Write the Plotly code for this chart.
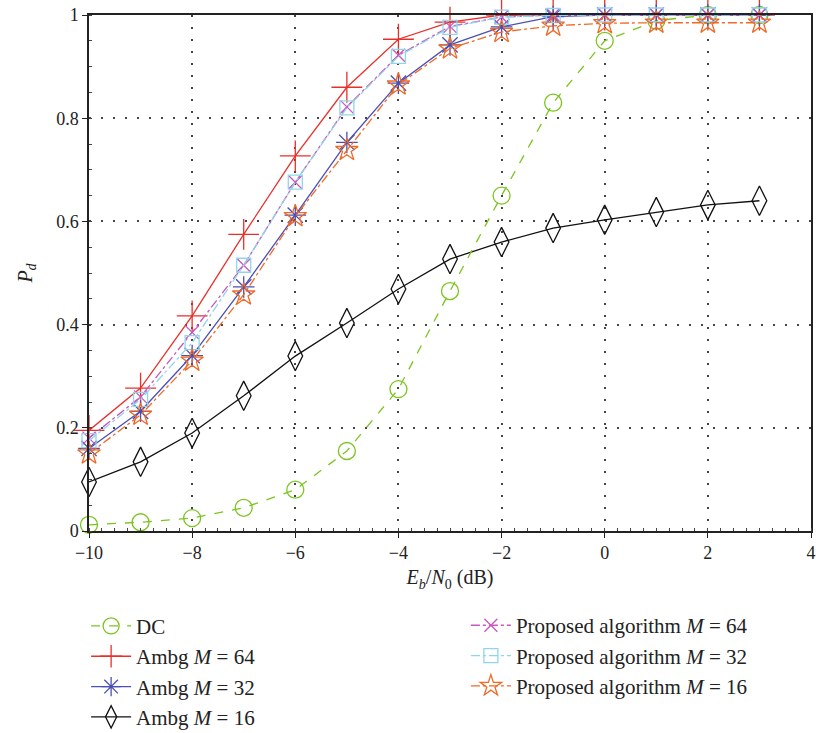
import plotly.graph_objects as go

x = [-10, -9, -8, -7, -6, -5, -4, -3, -2, -1, 0, 1, 2, 3]

dc = [0.012, 0.017, 0.025, 0.045, 0.08, 0.155, 0.275, 0.465, 0.65, 0.83, 0.95, 0.989, 1.0, 1.0]
ambg64 = [0.195, 0.277, 0.417, 0.575, 0.727, 0.86, 0.953, 0.986, 1.0, 1.0, 1.0, 1.0, 1.0, 1.0]
ambg32 = [0.16, 0.232, 0.34, 0.473, 0.612, 0.753, 0.868, 0.942, 0.977, 0.997, 1.0, 1.0, 1.0, 1.0]
ambg16 = [0.095, 0.134, 0.19, 0.262, 0.339, 0.403, 0.469, 0.527, 0.56, 0.587, 0.603, 0.618, 0.632, 0.64]
prop64 = [0.18, 0.26, 0.385, 0.515, 0.676, 0.822, 0.922, 0.978, 0.996, 1.0, 1.0, 1.0, 1.0, 1.0]
prop32 = [0.175, 0.255, 0.365, 0.515, 0.676, 0.82, 0.92, 0.976, 0.996, 0.999, 1.0, 1.0, 1.0, 1.0]
prop16 = [0.15, 0.225, 0.33, 0.458, 0.61, 0.738, 0.865, 0.935, 0.967, 0.979, 0.984, 0.985, 0.985, 0.985]

FONT = "Liberation Serif"

fig = go.Figure()

def add(y, name, color, dash, symbol, size, legend, rank):
    fig.add_trace(go.Scatter(
        x=x, y=y, name=name, mode="lines+markers",
        line=dict(color=color, width=1.3, dash=dash),
        marker=dict(symbol=symbol, size=size, color=color,
                    line=dict(color=color, width=1.3)),
        legend=legend, legendrank=rank, cliponaxis=False,
    ))

add(ambg16, "Ambg <i>M</i> = 16", "#111111", "solid", "diamond-tall-open", 21, "legend", 4)
add(dc, "DC", "#7cc420", "dash", "circle-open", 17, "legend", 1)
add(ambg64, "Ambg <i>M</i> = 64", "#e8302a", "solid", "cross-thin-open", 22, "legend", 2)
add(ambg32, "Ambg <i>M</i> = 32", "#4b4fb3", "solid", "asterisk-open", 18, "legend", 3)
add(prop64, "Proposed algorithm <i>M</i> = 64", "#c857c2", "dashdot", "x-thin-open", 13, "legend2", 5)
add(prop32, "Proposed algorithm <i>M</i> = 32", "#8fd6ea", "dashdot", "square-open", 14, "legend2", 6)
add(prop16, "Proposed algorithm <i>M</i> = 16", "#f06a26", "dashdot", "star-open", 17, "legend2", 7)

axis_common = dict(
    showline=True, linecolor="#222222", linewidth=1.5, mirror=True,
    ticks="outside", ticklen=5, tickcolor="#222222",
    showgrid=True, gridcolor="#444444", griddash="2px,10px", gridwidth=1.5,
    zeroline=False,
    tickfont=dict(family=FONT, size=18, color="#222222"),
)

fig.update_xaxes(
    range=[-10, 4], tickmode="array", tickvals=[-10, -8, -6, -4, -2, 0, 2, 4],
    ticktext=["−10", "−8", "−6", "−4", "−2", "0", "2", "4"],
    title=dict(text="<i>E</i><sub><i>b</i></sub>/<i>N</i><sub>0</sub> (dB)",
               font=dict(family=FONT, size=20, color="#222222"), standoff=8),
    minor=dict(dtick=0.25, ticks="inside", ticklen=3, tickcolor="#444444", showgrid=False),
    **axis_common,
)
fig.update_yaxes(
    range=[0, 1], tickmode="array", tickvals=[0, 0.2, 0.4, 0.6, 0.8, 1],
    ticktext=["0", "0.2", "0.4", "0.6", "0.8", "1"],
    title=dict(text="<i>P<sub>d</sub></i>",
               font=dict(family=FONT, size=20, color="#222222"), standoff=18),
    minor=dict(dtick=0.05, ticks="inside", ticklen=3, tickcolor="#444444", showgrid=False),
    **axis_common,
)

legend_common = dict(
    orientation="v", bgcolor="rgba(0,0,0,0)", borderwidth=0,
    font=dict(family=FONT, size=21, color="#222222"),
    xanchor="left", yanchor="top", yref="container", itemwidth=40,
    traceorder="normal",
)

fig.update_layout(
    width=816, height=733,
    margin=dict(l=89, r=5, t=15, b=202, autoexpand=False),
    paper_bgcolor="white", plot_bgcolor="white",
    showlegend=True,
    legend=dict(x=-0.004, y=0.1735, **legend_common),
    legend2=dict(x=0.522, y=0.1745, **legend_common),
)

fig.write_html("out.html")
